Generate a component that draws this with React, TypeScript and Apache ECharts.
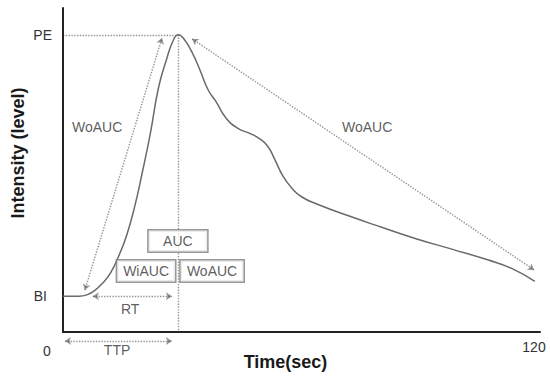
import React, { useEffect, useRef } from 'react';
import * as echarts from 'echarts';

// Time-intensity curve (schematic)
const timeSec = [0, 4, 6, 8, 10, 12, 14, 16, 18, 20, 22, 24, 26, 27.7, 29, 30.3, 32.5, 34.5, 36.5, 38.5, 41, 44, 47, 49.5, 51.5, 53.3, 55.3, 57.5, 60, 64, 72, 80, 89, 98, 107, 113, 118.7];
const intensity = [12, 12, 12.5, 14, 16.5, 20, 25.5, 32.5, 42, 54, 67, 82, 91.5, 98, 100, 98.8, 94, 88, 81.5, 77.5, 72, 68.5, 66.8, 65, 62.5, 58, 52.5, 48.5, 45.5, 43, 39, 35.3, 31.3, 27.8, 24.2, 21.3, 17];

const xTickValues = [0, 120];
const xTickLabels = ['0', '120'];
const yTickValues = [12, 100];
const yTickLabels = ['BI', 'PE'];

// guide lines (no arrows)
const peGuide = [[0, 100], [29, 100]];
const peakGuide = [[29, 100], [29, 0]];
// double-headed arrows
const woaucRiseArrow = [[5.5, 14.1], [24.9, 98.9]];
const woaucFallArrow = [[32.5, 98.6], [118.5, 20.9]];
const rtArrow = [[7.5, 12], [27.4, 12]];
const ttpArrow = [[0.5, -3], [27.4, -3]];

const plainNoteNames = ['WoAUC', 'WoAUC', 'RT', 'TTP'];
const plainNotePos = [[8.6, 69], [76.5, 69], [16.9, 7.7], [13.6, -6.1]];
const boxNoteNames = ['AUC', 'WiAUC', 'WoAUC'];
const boxNotePos = [[28.9, 30.6], [20.9, 20.5], [37.5, 20.5]];
const boxPadding = [[2.5, 14.5], [2.5, 6], [2.5, 6.3]];

const FONT = '"Liberation Sans", Arial, sans-serif';

export default function App() {
  const ref = useRef<HTMLDivElement>(null);
  useEffect(() => {
    document.body.style.margin = '0';
    if (!ref.current) return;
    const chart = echarts.init(ref.current, null, { renderer: 'svg' });
    const dotted = { color: '#2a2a2a', width: 1.4, type: [1.4, 1.4] as number[] };
    chart.setOption({
      animation: false,
      backgroundColor: '#fff',
      textStyle: { fontFamily: FONT },
      grid: { left: 63, right: 10, top: 8, bottom: 45, containLabel: false, outerBoundsMode: 'none' },
      xAxis: {
        type: 'value',
        min: 0,
        max: 120,
        name: 'Time(sec)',
        nameLocation: 'middle',
        nameGap: 21,
        nameMoveOverlap: false,
        nameTextStyle: { fontSize: 18, fontWeight: 'bold', color: '#1a1a1a', fontFamily: FONT, padding: [0, 32, 0, 0] },
        axisLine: { show: true, lineStyle: { color: '#222', width: 2 } },
        axisTick: { show: false },
        splitLine: { show: false },
        axisLabel: {
          customValues: xTickValues,
          margin: 8,
          formatter: (v: number) => {
            const i = xTickValues.indexOf(v);
            return i === 0 ? `{lo|${xTickLabels[i]}}` : `{hi|${xTickLabels[i]}}`;
          },
          rich: {
            lo: { fontSize: 14, color: '#333', fontFamily: FONT, padding: [4, 32, 0, 0] },
            hi: { fontSize: 14, color: '#333', fontFamily: FONT, padding: [0, 12, 0, 0] },
          },
        },
      },
      yAxis: {
        type: 'value',
        min: 0,
        max: 109,
        name: 'Intensity (level)',
        nameLocation: 'middle',
        nameRotate: 90,
        nameGap: 36,
        nameMoveOverlap: false,
        nameTextStyle: { fontSize: 18, fontWeight: 'bold', color: '#1a1a1a', fontFamily: FONT, padding: [0, 0, 0, 34] },
        axisLine: { show: true, lineStyle: { color: '#222', width: 2 } },
        axisTick: { show: false },
        splitLine: { show: false },
        axisLabel: {
          customValues: yTickValues,
          margin: 11,
          formatter: (v: number) => {
            const i = yTickValues.indexOf(v);
            return i === 0 ? `{bi|${yTickLabels[i]}}` : `{pe|${yTickLabels[i]}}`;
          },
          rich: {
            bi: { fontSize: 14, color: '#333', fontFamily: FONT, padding: [0, 5, 0, 0] },
            pe: { fontSize: 14, color: '#333', fontFamily: FONT },
          },
        },
      },
      series: [
        {
          type: 'line',
          data: timeSec.map((t, i) => [t, intensity[i]]),
          symbol: 'none',
          smooth: 0.5,
          lineStyle: { color: '#6a6a6a', width: 1.5 },
          z: 3,
        },
        {
          type: 'lines',
          coordinateSystem: 'cartesian2d',
          clip: false,
          symbol: ['none', 'none'],
          lineStyle: dotted,
          data: [{ coords: peGuide }, { coords: peakGuide }],
          z: 2,
        },
        {
          type: 'lines',
          coordinateSystem: 'cartesian2d',
          clip: false,
          symbol: ['arrow', 'arrow'],
          symbolSize: 6,
          lineStyle: dotted,
          itemStyle: { color: '#222' },
          data: [
            { coords: woaucRiseArrow },
            { coords: woaucFallArrow },
            { coords: rtArrow },
            { coords: ttpArrow },
          ],
          z: 2,
        },
        {
          type: 'scatter',
          clip: false,
          symbolSize: 0,
          z: 5,
          label: {
            show: true,
            position: 'inside',
            formatter: '{b}',
            fontSize: 14,
            color: '#333',
            fontFamily: FONT,
          },
          data: plainNoteNames.map((n, i) => ({ name: n, value: plainNotePos[i] })),
        },
        {
          type: 'scatter',
          clip: false,
          symbolSize: 0,
          z: 6,
          label: {
            show: true,
            position: 'inside',
            formatter: '{b}',
            fontSize: 14,
            lineHeight: 16,
            color: '#333',
            fontFamily: FONT,
            backgroundColor: '#fff',
            borderColor: '#808080',
            borderWidth: 1.5,
          },
          data: boxNoteNames.map((n, i) => ({
            name: n,
            value: boxNotePos[i],
            label: { padding: boxPadding[i] },
          })),
        },
      ],
    });
    return () => chart.dispose();
  }, []);
  return <div ref={ref} style={{ width: 550, height: 377 }} />;
}
